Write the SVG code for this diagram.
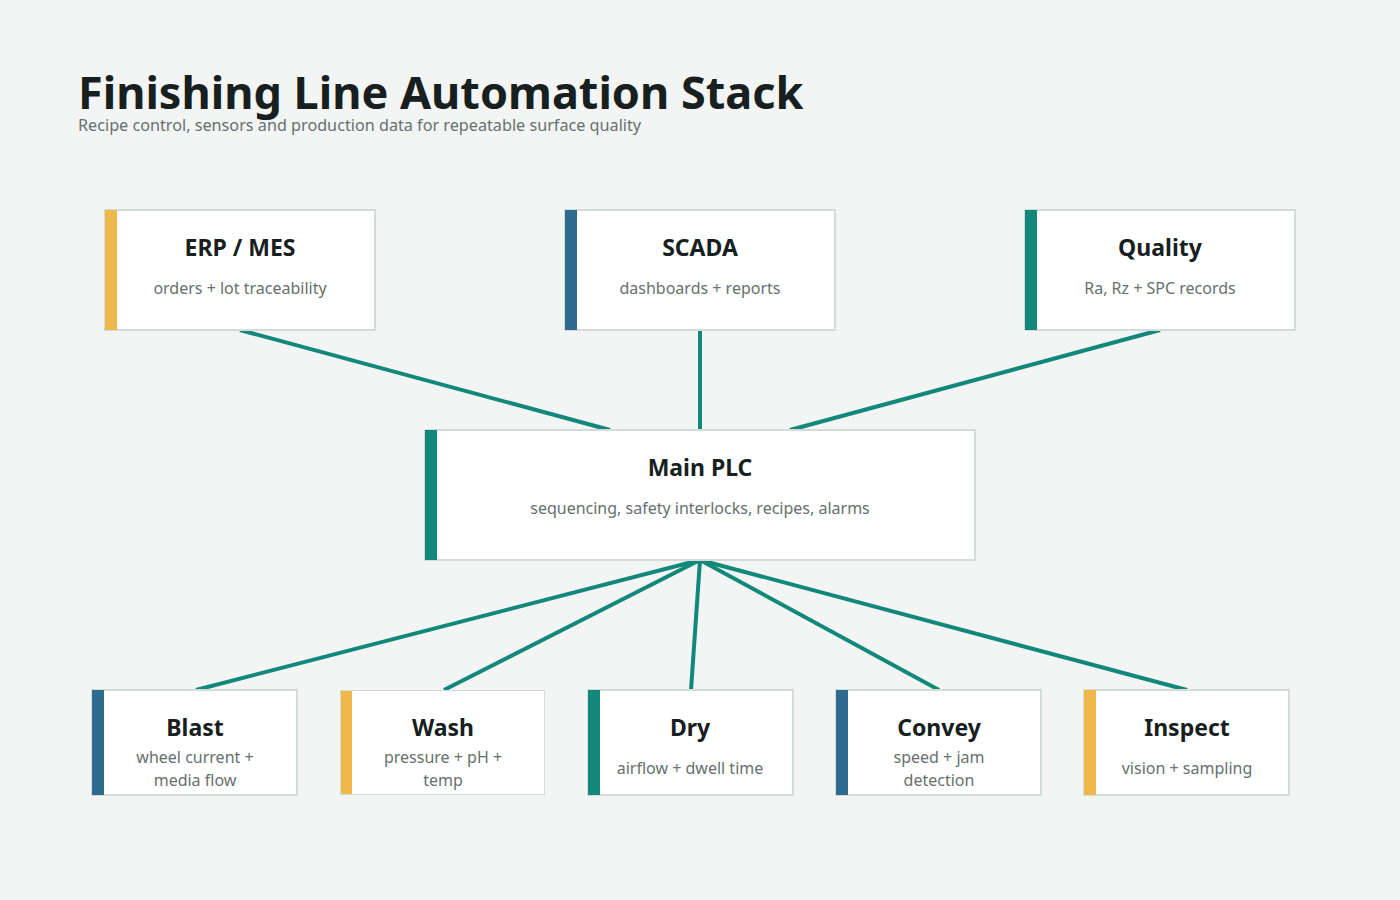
<svg xmlns="http://www.w3.org/2000/svg" width="1400" height="900" viewBox="0 0 1400 900">
<style>
text{font-family:"Noto Sans","Open Sans","Liberation Sans",sans-serif;text-anchor:middle}
.box{fill:#fff;stroke:#d3dcd9;stroke-width:2}
.t{font-size:23px;font-weight:bold;fill:#17201e}
.s{font-size:16px;fill:#66706e}
.c{stroke:#12887a;stroke-width:4;fill:none}
</style>
<defs>
<clipPath id="cw"><rect x="340" y="690" width="205" height="105"/></clipPath>
</defs>
<rect width="1400" height="900" fill="#f3f5f4"/>
<text x="78" y="109" style="text-anchor:start;font-size:45px;font-weight:bold;fill:#17201e">Finishing Line Automation Stack</text>
<text x="78" y="131" style="text-anchor:start;font-size:16.2px;fill:#66706e">Recipe control, sensors and production data for repeatable surface quality</text>
<g id="connectors">
<line class="c" x1="240" y1="330" x2="610" y2="430"/>
<line class="c" x1="700" y1="330" x2="700" y2="430"/>
<line class="c" x1="1160" y1="330" x2="790" y2="430"/>
<line class="c" x1="700" y1="560" x2="196" y2="690"/>
<line class="c" x1="700" y1="560" x2="444" y2="690"/>
<line class="c" x1="700" y1="560" x2="691" y2="690"/>
<line class="c" x1="700" y1="560" x2="939" y2="690"/>
<line class="c" x1="700" y1="560" x2="1187" y2="690"/>
</g>
<g id="erp"><rect class="box" x="105" y="210" width="270" height="120"/><rect x="105" y="210" width="12" height="120" fill="#f0b74a"/><text class="t" x="240" y="256">ERP / MES</text><text class="s" x="240" y="294">orders + lot traceability</text></g>
<g id="scada"><rect class="box" x="565" y="210" width="270" height="120"/><rect x="565" y="210" width="12" height="120" fill="#2e6b8e"/><text class="t" x="700" y="256">SCADA</text><text class="s" x="700" y="294">dashboards + reports</text></g>
<g id="quality"><rect class="box" x="1025" y="210" width="270" height="120"/><rect x="1025" y="210" width="12" height="120" fill="#12887a"/><text class="t" x="1160" y="256">Quality</text><text class="s" x="1160" y="294">Ra, Rz + SPC records</text></g>
<g id="plc"><rect class="box" x="425" y="430" width="550" height="130"/><rect x="425" y="430" width="12" height="130" fill="#12887a"/><text class="t" x="700" y="476">Main PLC</text><text class="s" x="700" y="514">sequencing, safety interlocks, recipes, alarms</text></g>
<g id="blast"><rect class="box" x="92" y="690" width="205" height="105"/><rect x="92" y="690" width="12" height="105" fill="#2e6b8e"/><text class="t" x="195" y="736">Blast</text><text class="s" x="195" y="763">wheel current +</text><text class="s" x="195" y="786">media flow</text></g>
<g id="wash" clip-path="url(#cw)"><rect class="box" x="340" y="690" width="205" height="105"/><rect x="340" y="690" width="12" height="105" fill="#f0b74a"/><text class="t" x="443" y="736">Wash</text><text class="s" x="443" y="763">pressure + pH +</text><text class="s" x="443" y="786">temp</text><rect x="340" y="690" width="205" height="105" fill="none" stroke="#d3dcd9" stroke-width="2"/></g>
<g id="dry"><rect class="box" x="588" y="690" width="205" height="105"/><rect x="588" y="690" width="12" height="105" fill="#12887a"/><text class="t" x="690" y="736">Dry</text><text class="s" x="690" y="774">airflow + dwell time</text></g>
<g id="convey"><rect class="box" x="836" y="690" width="205" height="105"/><rect x="836" y="690" width="12" height="105" fill="#2e6b8e"/><text class="t" x="939" y="736">Convey</text><text class="s" x="939" y="763">speed + jam</text><text class="s" x="939" y="786">detection</text></g>
<g id="inspect"><rect class="box" x="1084" y="690" width="205" height="105"/><rect x="1084" y="690" width="12" height="105" fill="#f0b74a"/><text class="t" x="1187" y="736">Inspect</text><text class="s" x="1187" y="774">vision + sampling</text></g>
</svg>
